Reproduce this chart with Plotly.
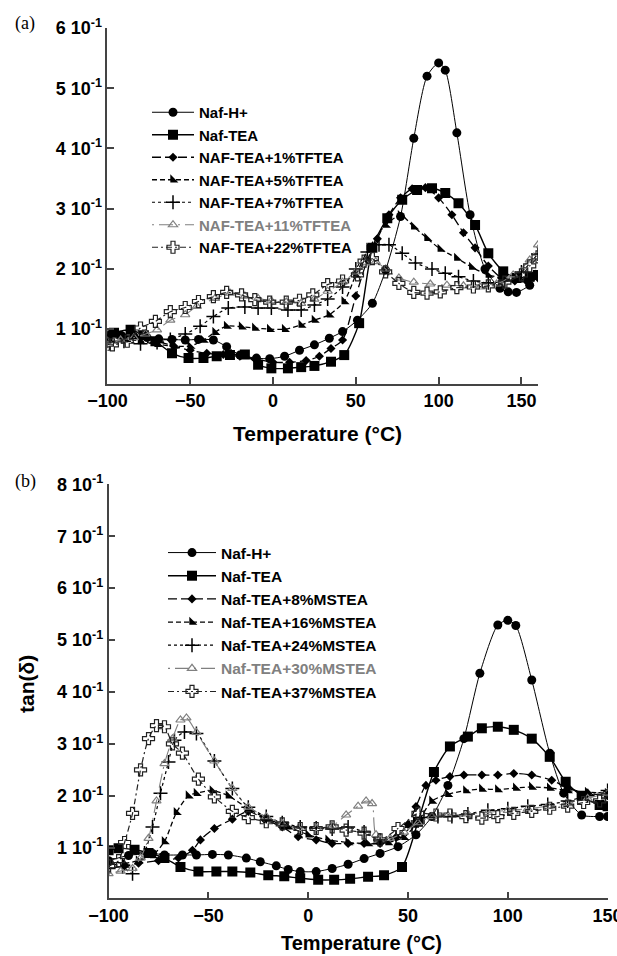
import plotly.graph_objects as go

# ---------------- Panel (a) data : T (°C), tan(delta) ----------------
a_names = ["Naf-H+", "Naf-TEA", "NAF-TEA+1%TFTEA", "NAF-TEA+5%TFTEA",
           "NAF-TEA+7%TFTEA", "NAF-TEA+11%TFTEA", "NAF-TEA+22%TFTEA"]

a_h_T = [-100, -92, -84, -76, -69, -61, -53, -45, -36, -28, -20, -10, -2, 7, 16, 25, 34, 42, 51, 60, 68, 77, 85, 93, 100, 104, 111, 119, 128, 137, 142, 147, 155, 160]
a_h_v = [0.09, 0.09, 0.088, 0.086, 0.084, 0.083, 0.082, 0.083, 0.082, 0.071, 0.057, 0.052, 0.051, 0.055, 0.065, 0.074, 0.085, 0.096, 0.115, 0.143, 0.198, 0.287, 0.417, 0.52, 0.542, 0.53, 0.426, 0.29, 0.2, 0.168, 0.162, 0.161, 0.173, 0.19]

a_tea_T = [-100, -96, -86, -78, -71, -61, -51, -42, -34, -26, -17, -9, -1, 9, 17, 25, 35, 43, 52, 60, 69, 78, 87, 96, 104, 112, 122, 130, 139, 147, 155, 160]
a_tea_v = [0.09, 0.094, 0.099, 0.09, 0.08, 0.06, 0.052, 0.052, 0.055, 0.057, 0.058, 0.041, 0.035, 0.035, 0.037, 0.039, 0.046, 0.057, 0.11, 0.235, 0.284, 0.315, 0.331, 0.334, 0.326, 0.309, 0.273, 0.226, 0.196, 0.185, 0.187, 0.19]

a_1_T = [-100, -90, -80, -70, -60, -50, -40, -30, -20, -10, 0, 10, 20, 28, 35, 42, 50, 57, 63, 70, 77, 84, 92, 100, 108, 115, 122, 130, 138, 146, 153, 160]
a_1_v = [0.088, 0.088, 0.085, 0.08, 0.072, 0.065, 0.06, 0.058, 0.055, 0.05, 0.045, 0.045, 0.048, 0.055, 0.068, 0.082, 0.155, 0.215, 0.25, 0.29, 0.318, 0.333, 0.335, 0.318, 0.29, 0.26, 0.235, 0.205, 0.185, 0.18, 0.18, 0.185]

a_5_T = [-100, -90, -80, -70, -60, -50, -42, -35, -28, -19, -11, -2, 7, 17, 25, 34, 43, 50, 58, 68, 77, 85, 93, 101, 111, 120, 130, 139, 148, 155, 160]
a_5_v = [0.085, 0.085, 0.08, 0.075, 0.072, 0.072, 0.082, 0.095, 0.105, 0.104, 0.102, 0.1, 0.1, 0.107, 0.115, 0.124, 0.146, 0.19, 0.235, 0.273, 0.289, 0.27, 0.251, 0.233, 0.218, 0.203, 0.19, 0.185, 0.182, 0.185, 0.19]

a_7_T = [-100, -90, -80, -70, -62, -53, -44, -36, -27, -17, -9, -1, 9, 17, 25, 33, 42, 50, 57, 64, 70, 78, 86, 96, 104, 112, 121, 130, 140, 150, 160]
a_7_v = [0.08, 0.08, 0.076, 0.078, 0.083, 0.092, 0.105, 0.121, 0.135, 0.137, 0.135, 0.135, 0.132, 0.132, 0.14, 0.15, 0.17, 0.2, 0.228, 0.24, 0.24, 0.226, 0.21, 0.2, 0.193, 0.187, 0.18, 0.177, 0.18, 0.195, 0.225]

a_11_T = [-100, -92, -84, -77, -70, -62, -53, -46, -35, -26, -17, -9, -1, 8, 17, 25, 33, 42, 50, 56, 62, 68, 76, 85, 95, 105, 115, 125, 135, 145, 155, 160]
a_11_v = [0.08, 0.082, 0.086, 0.092, 0.099, 0.115, 0.124, 0.138, 0.151, 0.16, 0.155, 0.151, 0.147, 0.145, 0.143, 0.15, 0.163, 0.178, 0.195, 0.21, 0.212, 0.2, 0.185, 0.178, 0.175, 0.173, 0.172, 0.17, 0.175, 0.19, 0.215, 0.24]

a_22_T = [-100, -97, -88, -80, -71, -62, -53, -45, -36, -28, -19, -11, -2, 8, 16, 24, 33, 42, 51, 55, 60, 68, 76, 85, 93, 101, 111, 121, 130, 140, 150, 155, 160]
a_22_v = [0.075, 0.074, 0.08, 0.102, 0.113, 0.129, 0.136, 0.146, 0.154, 0.161, 0.157, 0.149, 0.145, 0.145, 0.148, 0.157, 0.174, 0.18, 0.19, 0.213, 0.217, 0.195, 0.176, 0.161, 0.16, 0.162, 0.169, 0.17, 0.172, 0.178, 0.19, 0.205, 0.22]

# ---------------- Panel (b) data ----------------
b_names = ["Naf-H+", "Naf-TEA", "Naf-TEA+8%MSTEA", "Naf-TEA+16%MSTEA",
           "Naf-TEA+24%MSTEA", "Naf-TEA+30%MSTEA", "Naf-TEA+37%MSTEA"]

b_h_T = [-100, -90, -78, -72, -63, -56, -48, -40, -31, -24, -16, -10, -4, 4, 12, 20, 28, 36, 45, 54, 62, 70, 78, 86, 95, 100, 104, 112, 121, 128, 137, 146, 150]
b_h_v = [0.075, 0.085, 0.089, 0.086, 0.086, 0.086, 0.087, 0.086, 0.08, 0.073, 0.065, 0.058, 0.054, 0.054, 0.06, 0.068, 0.079, 0.089, 0.102, 0.125, 0.16, 0.22, 0.31, 0.436, 0.529, 0.538, 0.528, 0.423, 0.282, 0.205, 0.163, 0.16, 0.16]

b_tea_T = [-100, -95, -87, -80, -72, -64, -55, -46, -38, -29, -20, -12, -4, 5, 13, 21, 30, 38, 47, 55, 63, 71, 80, 87, 95, 103, 112, 121, 129, 137, 146, 150]
b_tea_v = [0.095, 0.099, 0.096, 0.09, 0.08, 0.063, 0.054, 0.054, 0.054, 0.052, 0.047, 0.045, 0.041, 0.038, 0.038, 0.04, 0.044, 0.047, 0.063, 0.15, 0.246, 0.295, 0.314, 0.33, 0.333, 0.327, 0.31, 0.275, 0.227, 0.2, 0.182, 0.18]

b_8_T = [-100, -92, -85, -75, -65, -58, -54, -47, -38, -30, -22, -13, -5, 4, 12, 20, 28, 36, 44, 50, 54, 59, 64, 71, 78, 87, 95, 103, 112, 122, 130, 140, 150]
b_8_v = [0.07, 0.065, 0.07, 0.075, 0.08, 0.095, 0.115, 0.137, 0.155, 0.17, 0.155, 0.14, 0.121, 0.115, 0.108, 0.108, 0.108, 0.108, 0.12, 0.145, 0.179, 0.22, 0.23, 0.237, 0.24, 0.24, 0.24, 0.243, 0.24, 0.23, 0.215, 0.205, 0.2]

b_16_T = [-100, -92, -85, -78, -72, -66, -60, -56, -48, -40, -30, -20, -10, 0, 10, 20, 30, 40, 48, 55, 62, 70, 79, 87, 95, 104, 112, 121, 130, 140, 150]
b_16_v = [0.075, 0.07, 0.075, 0.085, 0.112, 0.168, 0.2, 0.205, 0.21, 0.2, 0.175, 0.155, 0.14, 0.125, 0.115, 0.11, 0.108, 0.11, 0.12, 0.15, 0.19, 0.203, 0.21, 0.213, 0.212, 0.215, 0.217, 0.215, 0.21, 0.207, 0.205]

b_24_T = [-100, -93, -88, -82, -78, -74, -70, -67, -62, -56, -47, -38, -30, -21, -13, -4, 4, 12, 20, 28, 36, 44, 52, 58, 65, 72, 80, 90, 100, 110, 120, 130, 140, 150]
b_24_v = [0.06, 0.063, 0.05, 0.09, 0.14, 0.205, 0.265, 0.307, 0.323, 0.32, 0.267, 0.214, 0.178, 0.16, 0.148, 0.14, 0.138, 0.136, 0.14, 0.13, 0.115, 0.12, 0.14, 0.158, 0.16, 0.16, 0.165, 0.172, 0.175, 0.18, 0.183, 0.19, 0.2, 0.21]

b_30_T = [-100, -94, -88, -84, -80, -76, -72, -68, -64, -61, -56, -47, -38, -30, -21, -13, -5, 4, 12, 19, 25, 29, 32, 34, 41, 48, 55, 62, 70, 80, 90, 100, 110, 120, 130, 140, 150]
b_30_v = [0.05, 0.055, 0.06, 0.08, 0.118, 0.19, 0.262, 0.31, 0.346, 0.35, 0.322, 0.267, 0.214, 0.178, 0.16, 0.146, 0.137, 0.137, 0.142, 0.163, 0.18, 0.19, 0.185, 0.125, 0.118, 0.13, 0.148, 0.16, 0.162, 0.165, 0.168, 0.172, 0.175, 0.18, 0.185, 0.195, 0.205]

b_37_T = [-100, -95, -92, -88, -84, -80, -76, -72, -68, -63, -55, -47, -38, -30, -21, -13, -4, 4, 12, 19, 28, 36, 45, 55, 64, 71, 79, 87, 95, 103, 112, 121, 130, 138, 146, 150]
b_37_v = [0.065, 0.075, 0.11, 0.166, 0.25, 0.31, 0.335, 0.333, 0.3, 0.282, 0.232, 0.198, 0.17, 0.158, 0.15, 0.146, 0.137, 0.137, 0.14, 0.134, 0.128, 0.115, 0.137, 0.166, 0.163, 0.163, 0.16, 0.157, 0.16, 0.166, 0.17, 0.176, 0.18, 0.187, 0.19, 0.2]

# tick labels
a_ytickvals = [0.1, 0.2, 0.3, 0.4, 0.5, 0.6]
b_ytickvals = [0.1, 0.2, 0.3, 0.4, 0.5, 0.6, 0.7, 0.8]
ytick_mant = ["1", "2", "3", "4", "5", "6", "7", "8"]
xtickvals = [-100, -50, 0, 50, 100, 150]

# ---------------- styles ----------------
GRAY = "#808080"
styles = [
    dict(color="black", dash="solid", width=1.0, symbol="circle", size=9, lw=0),
    dict(color="black", dash="solid", width=1.4, symbol="square", size=10, lw=0),
    dict(color="black", dash="9px,4px", width=1.3, symbol="diamond", size=7, lw=0),
    dict(color="black", dash="5px,3px", width=1.3, symbol="triangle-sw", size=9, lw=0),
    dict(color="black", dash="3px,3px", width=1.2, symbol="cross-thin", size=10, lw=1.5),
    dict(color=GRAY, dash="2px,5px,14px,5px", width=1.1, symbol="triangle-up-open", size=8, lw=1.2),
    dict(color="#222222", dash="6px,3px,2px,3px", width=1.2, symbol="cross-open", size=10, lw=1.2),
]

a_series = [(a_h_T, a_h_v), (a_tea_T, a_tea_v), (a_1_T, a_1_v), (a_5_T, a_5_v),
            (a_7_T, a_7_v), (a_11_T, a_11_v), (a_22_T, a_22_v)]
b_series = [(b_h_T, b_h_v), (b_tea_T, b_tea_v), (b_8_T, b_8_v), (b_16_T, b_16_v),
            (b_24_T, b_24_v), (b_30_T, b_30_v), (b_37_T, b_37_v)]

fig = go.Figure()

def add(series, names, xa, ya, leg):
    for (T, v), name, st in zip(series, names, styles):
        label = name
        if st["color"] == GRAY:
            label = "<span style='color:%s'>%s</span>" % (GRAY, name)
        fig.add_trace(go.Scatter(
            x=T, y=v, name=label, xaxis=xa, yaxis=ya, legend=leg,
            mode="lines+markers",
            line=dict(color=st["color"], dash=st["dash"], width=st["width"],
                      shape="spline", smoothing=0.7),
            marker=dict(symbol=st["symbol"], size=st["size"], color=st["color"],
                        line=dict(width=st["lw"], color=st["color"])),
        ))

add(a_series, a_names, "x", "y", "legend")
add(b_series, b_names, "x2", "y2", "legend2")

W, H = 617, 956
FONT = "Liberation Sans, Arial, Helvetica, sans-serif"
AXCOL = "#444444"

def px_x(p):
    return p / W

def px_y(p):
    return 1 - p / H

axis_common = dict(showline=True, linecolor=AXCOL, linewidth=1.6, ticks="inside",
                   ticklen=7, tickwidth=1.6, tickcolor=AXCOL, showgrid=False,
                   zeroline=False, mirror=False, automargin=False,
                   ticklabeloverflow="allow",
                   tickfont=dict(family=FONT, size=18, color="black", weight="bold"))

fig.update_layout(
    width=W, height=H, margin=dict(l=0, r=0, t=0, b=0, pad=0, autoexpand=False),
    paper_bgcolor="white", plot_bgcolor="white",
    showlegend=True,
    xaxis=dict(domain=[px_x(107.4), px_x(538)], range=[-100, 160], tickvals=xtickvals,
               anchor="y", **axis_common),
    yaxis=dict(domain=[px_y(384), px_y(28)], range=[0.009, 0.6], tickvals=a_ytickvals,
               ticktext=["%s 10<sup>-1</sup>" % m for m in ytick_mant[:6]],
               anchor="x", **axis_common),
    xaxis2=dict(domain=[px_x(108.6), px_x(608)], range=[-100, 150.2], tickvals=xtickvals,
                anchor="y2", **axis_common),
    yaxis2=dict(domain=[px_y(898.3), px_y(484.3)], range=[0.0025, 0.8], tickvals=b_ytickvals,
                ticktext=["%s 10<sup>-1</sup>" % m for m in ytick_mant[:8]],
                anchor="x2", **axis_common),
    legend=dict(x=px_x(147), y=px_y(96), xanchor="left", yanchor="top",
                bgcolor="rgba(0,0,0,0)", borderwidth=0, itemwidth=42,
                font=dict(family=FONT, size=15, color="black", weight="bold"),
                tracegroupgap=0),
    legend2=dict(x=px_x(163), y=px_y(536), xanchor="left", yanchor="top",
                 bgcolor="rgba(0,0,0,0)", borderwidth=0, itemwidth=48,
                 font=dict(family=FONT, size=15.5, color="black", weight="bold"),
                 tracegroupgap=0),
)

title_font = dict(family=FONT, size=21, color="black", weight="bold")
fig.add_annotation(text="Temperature (°C)", x=px_x(317), y=px_y(433), xref="paper", yref="paper",
                   showarrow=False, font=title_font, xanchor="center", yanchor="middle")
fig.add_annotation(text="Temperature (°C)", x=px_x(361), y=px_y(943), xref="paper", yref="paper",
                   showarrow=False, font=dict(family=FONT, size=20, color="black", weight="bold"),
                   xanchor="center", yanchor="middle")
fig.add_annotation(text="tan(δ)", x=px_x(26), y=px_y(684), xref="paper", yref="paper",
                   showarrow=False, font=title_font, textangle=-90, xanchor="center", yanchor="middle")
serif = dict(family="Liberation Serif, Times New Roman, serif", size=18, color="black")
fig.add_annotation(text="(a)", x=px_x(24.5), y=px_y(24), xref="paper", yref="paper",
                   showarrow=False, font=serif, xanchor="center", yanchor="middle")
fig.add_annotation(text="(b)", x=px_x(25.5), y=px_y(482), xref="paper", yref="paper",
                   showarrow=False, font=serif, xanchor="center", yanchor="middle")

fig.write_html("out.html")
